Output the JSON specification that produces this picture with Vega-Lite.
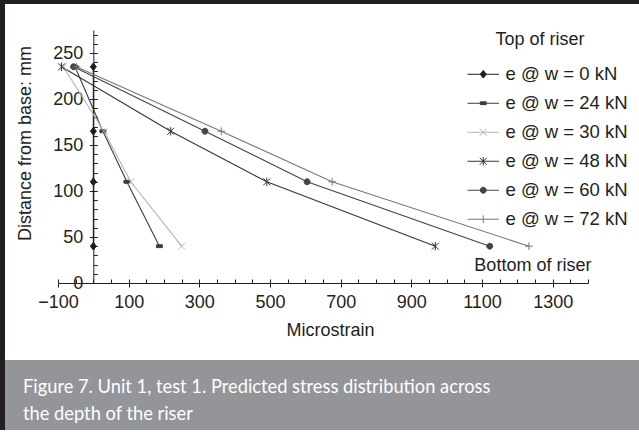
{
  "$schema": "https://vega.github.io/schema/vega-lite/v6.json",
  "background": "white",
  "padding": 0,
  "spacing": 0,
  "config": {"view": {"stroke": null}, "font": "Liberation Sans", "concat": {"spacing": 0}},
  "hconcat": [
    {"width": 5, "height": 430, "data": {"values": []}, "mark": "rect", "view": {"fill": "#231f20", "stroke": null}},
    {
      "spacing": 0,
      "vconcat": [
        {"width": 634, "height": 4, "data": {"values": []}, "mark": "rect", "view": {"fill": "#231f20", "stroke": null}},
        {
          "width": 634,
          "height": 356,
          "data": {"values": [
            {"series": "e @ w = 0 kN", "mk": "e @ w = 0 kN", "strain": 0, "depth": 235},
            {"series": "e @ w = 0 kN", "mk": "e @ w = 0 kN", "strain": 0, "depth": 165},
            {"series": "e @ w = 0 kN", "mk": "e @ w = 0 kN", "strain": 0, "depth": 110},
            {"series": "e @ w = 0 kN", "mk": "e @ w = 0 kN", "strain": 0, "depth": 40},
            {"series": "e @ w = 24 kN", "mk": "e @ w = 24 kN", "strain": -52, "depth": 235},
            {"series": "e @ w = 24 kN", "mk": "e @ w = 24 kN", "strain": 27, "depth": 165},
            {"series": "e @ w = 24 kN", "mk": "e @ w = 24 kN", "strain": 95, "depth": 110},
            {"series": "e @ w = 24 kN", "mk": "e @ w = 24 kN", "strain": 187, "depth": 40},
            {"series": "e @ w = 30 kN", "mk": "e @ w = 30 kN", "strain": -85, "depth": 235},
            {"series": "e @ w = 30 kN", "mk": "e @ w = 30 kN", "strain": 30, "depth": 165},
            {"series": "e @ w = 30 kN", "mk": "e @ w = 30 kN", "strain": 106, "depth": 110},
            {"series": "e @ w = 30 kN", "mk": "e @ w = 30 kN", "strain": 250, "depth": 40},
            {"series": "e @ w = 48 kN", "mk": "e @ w = 48 kN", "strain": -90, "depth": 235},
            {"series": "e @ w = 48 kN", "mk": "e @ w = 48 kN", "strain": 219, "depth": 165},
            {"series": "e @ w = 48 kN", "mk": "e @ w = 48 kN", "strain": 491, "depth": 110},
            {"series": "e @ w = 48 kN", "mk": "e @ w = 48 kN", "strain": 968, "depth": 40},
            {"series": "e @ w = 60 kN", "mk": "e @ w = 60 kN", "strain": -56, "depth": 235},
            {"series": "e @ w = 60 kN", "mk": "e @ w = 60 kN", "strain": 316, "depth": 165},
            {"series": "e @ w = 60 kN", "mk": "e @ w = 60 kN", "strain": 605, "depth": 110},
            {"series": "e @ w = 60 kN", "mk": "e @ w = 60 kN", "strain": 1122, "depth": 40},
            {"series": "e @ w = 72 kN", "mk": "e @ w = 72 kN", "strain": -48, "depth": 235},
            {"series": "e @ w = 72 kN", "mk": "e @ w = 72 kN", "strain": 362, "depth": 165},
            {"series": "e @ w = 72 kN", "mk": "e @ w = 72 kN", "strain": 676, "depth": 110},
            {"series": "e @ w = 72 kN", "mk": "e @ w = 72 kN", "strain": 1233, "depth": 40}
          ]},
          "resolve": {"axis": {"x": "independent", "y": "independent"}},
          "layer": [
            {
              "mark": {"type": "line", "strokeWidth": 1.1},
              "encoding": {
                "x": {"field": "strain", "type": "quantitative",
                  "scale": {"domain": [-100, 1400], "range": [53, 583], "nice": false, "zero": false},
                  "axis": {"orient": "bottom", "offset": -77, "values": [-100, 100, 300, 500, 700, 900, 1100, 1300], "format": "d",
                    "tickSize": 4, "tickColor": "#231f20", "domainColor": "#231f20", "labelFontSize": 18, "labelFont": "Liberation Sans",
                    "labelColor": "#231f20", "labelPadding": 6, "labelFlush": false, "labelOverlap": false, "grid": false,
                    "title": "Microstrain", "titleFont": "Liberation Sans", "titleFontSize": 18, "titleFontWeight": "normal", "titleColor": "#231f20",
                    "titleX": 325, "titleY": 47, "titleBaseline": "middle"}},
                "y": {"field": "depth", "type": "quantitative",
                  "scale": {"domain": [0, 275], "range": [279, 26], "nice": false, "zero": false},
                  "axis": {"orient": "left", "offset": -88.33, "values": [0, 50, 100, 150, 200, 250], "format": "d",
                    "tickSize": 4, "tickColor": "#231f20", "domainColor": "#231f20", "labelFontSize": 18, "labelFont": "Liberation Sans",
                    "labelColor": "#231f20", "labelPadding": 6.5, "labelOverlap": false, "grid": false,
                    "title": "Distance from base: mm", "titleFont": "Liberation Sans", "titleFontSize": 18, "titleFontWeight": "normal", "titleColor": "#231f20",
                    "titleX": -67.8, "titleY": 139, "titleBaseline": "middle", "titleAngle": -90}},
                "color": {"field": "series", "type": "nominal",
                  "scale": {"domain": ["e @ w = 0 kN", "e @ w = 24 kN", "e @ w = 30 kN", "e @ w = 48 kN", "e @ w = 60 kN", "e @ w = 72 kN"],
                            "range": ["#1e1e1e", "#3c3c3c", "#b4b4b4", "#363636", "#444444", "#777777"]},
                  "legend": {"orient": "none", "legendX": 474, "legendY": 65, "title": null, "padding": 0,
                    "symbolSize": 49, "symbolStrokeWidth": 1, "labelFontSize": 18.5, "labelFont": "Liberation Sans", "labelColor": "#231f20",
                    "labelOffset": 13, "rowPadding": 10, "labelLimit": 0,
                    "encoding": {"symbols": {
                      "shape": {"value": {"expr": "['M-4.5,0H4.5M0,-1.1L0.85,0L0,1.1L-0.85,0Z','M-4.5,0H4.5M-0.85,-0.4H0.85V0.4H-0.85Z','M-4.5,0H4.5M-1,-1L1,1M-1,1L1,-1','M-4.5,0H4.5M-1,-1L1,1M-1,1L1,-1M0,-1.2V1.2','M-4.5,0H4.5M-0.85,0A0.85,0.85,0,1,1,0.85,0A0.85,0.85,0,1,1,-0.85,0Z','M-4.5,0H4.5M0,-1.1V1.1'][indexof(['e @ w = 0 kN','e @ w = 24 kN','e @ w = 30 kN','e @ w = 48 kN','e @ w = 60 kN','e @ w = 72 kN'], datum.value)]"}}
                    }}}},
                "order": {"field": "depth", "sort": "descending"}
              }
            },
            {
              "mark": {"type": "point", "filled": true, "size": 49, "strokeWidth": 1, "opacity": 1},
              "encoding": {
                "x": {"field": "strain", "type": "quantitative",
                  "scale": {"domain": [-100, 1400], "range": [53, 583], "nice": false, "zero": false},
                  "axis": {"orient": "bottom", "offset": -77, "values": [-100, -50, 0, 50, 100, 150, 200, 250, 300, 350, 400, 450, 500, 550, 600, 650, 700, 750, 800, 850, 900, 950, 1000, 1050, 1100, 1150, 1200, 1250, 1300, 1350, 1400],
                    "tickSize": -4, "tickColor": "#231f20", "labels": false, "domain": false, "grid": false, "title": null}},
                "y": {"field": "depth", "type": "quantitative",
                  "scale": {"domain": [0, 275], "range": [279, 26], "nice": false, "zero": false},
                  "axis": {"orient": "left", "offset": -88.33, "values": [0, 10, 20, 30, 40, 50, 60, 70, 80, 90, 100, 110, 120, 130, 140, 150, 160, 170, 180, 190, 200, 210, 220, 230, 240, 250, 260, 270],
                    "tickSize": -4, "tickColor": "#231f20", "labels": false, "domain": false, "grid": false, "title": null}},
                "color": {"field": "series", "type": "nominal",
                  "scale": {"domain": ["e @ w = 0 kN", "e @ w = 24 kN", "e @ w = 30 kN", "e @ w = 48 kN", "e @ w = 60 kN", "e @ w = 72 kN"],
                            "range": ["#1e1e1e", "#3c3c3c", "#b4b4b4", "#363636", "#444444", "#777777"]},
                  "legend": {"orient": "none", "legendX": 474, "legendY": 65, "title": null, "padding": 0,
                    "symbolSize": 49, "symbolStrokeWidth": 1, "labelFontSize": 18.5, "labelFont": "Liberation Sans", "labelColor": "#231f20",
                    "labelOffset": 13, "rowPadding": 10, "labelLimit": 0,
                    "encoding": {"symbols": {
                      "shape": {"value": {"expr": "['M-4.5,0H4.5M0,-1.1L0.85,0L0,1.1L-0.85,0Z','M-4.5,0H4.5M-0.85,-0.4H0.85V0.4H-0.85Z','M-4.5,0H4.5M-1,-1L1,1M-1,1L1,-1','M-4.5,0H4.5M-1,-1L1,1M-1,1L1,-1M0,-1.2V1.2','M-4.5,0H4.5M-0.85,0A0.85,0.85,0,1,1,0.85,0A0.85,0.85,0,1,1,-0.85,0Z','M-4.5,0H4.5M0,-1.1V1.1'][indexof(['e @ w = 0 kN','e @ w = 24 kN','e @ w = 30 kN','e @ w = 48 kN','e @ w = 60 kN','e @ w = 72 kN'], datum.value)]"}}
                    }}}},
                "stroke": {"field": "series", "type": "nominal",
                  "scale": {"domain": ["e @ w = 0 kN", "e @ w = 24 kN", "e @ w = 30 kN", "e @ w = 48 kN", "e @ w = 60 kN", "e @ w = 72 kN"],
                            "range": ["#1e1e1e", "#3c3c3c", "#b4b4b4", "#363636", "#444444", "#777777"]},
                  "legend": {"orient": "none", "legendX": 474, "legendY": 65, "title": null, "padding": 0,
                    "symbolSize": 49, "symbolStrokeWidth": 1, "labelFontSize": 18.5, "labelFont": "Liberation Sans", "labelColor": "#231f20",
                    "labelOffset": 13, "rowPadding": 10, "labelLimit": 0,
                    "encoding": {"symbols": {
                      "shape": {"value": {"expr": "['M-4.5,0H4.5M0,-1.1L0.85,0L0,1.1L-0.85,0Z','M-4.5,0H4.5M-0.85,-0.4H0.85V0.4H-0.85Z','M-4.5,0H4.5M-1,-1L1,1M-1,1L1,-1','M-4.5,0H4.5M-1,-1L1,1M-1,1L1,-1M0,-1.2V1.2','M-4.5,0H4.5M-0.85,0A0.85,0.85,0,1,1,0.85,0A0.85,0.85,0,1,1,-0.85,0Z','M-4.5,0H4.5M0,-1.1V1.1'][indexof(['e @ w = 0 kN','e @ w = 24 kN','e @ w = 30 kN','e @ w = 48 kN','e @ w = 60 kN','e @ w = 72 kN'], datum.value)]"}}
                    }}}},
                "shape": {"field": "mk", "type": "nominal",
                  "scale": {"range": ["M0,-1.1L0.85,0L0,1.1L-0.85,0Z", "M-0.85,-0.4H0.85V0.4H-0.85Z", "M-1,-1L1,1M-1,1L1,-1", "M-1,-1L1,1M-1,1L1,-1M0,-1.2V1.2", "M-0.85,0A0.85,0.85,0,1,1,0.85,0A0.85,0.85,0,1,1,-0.85,0Z", "M-1.1,0H1.1M0,-1.1V1.1"]},
                  "legend": null}
              }
            },
            {
              "data": {"values": [
                {"note": "Top of riser", "nx": 1264, "ny": 264},
                {"note": "Bottom of riser", "nx": 1244, "ny": 18}
              ]},
              "mark": {"type": "text", "fontSize": 18, "font": "Liberation Sans", "color": "#231f20", "align": "center", "baseline": "middle"},
              "encoding": {
                "x": {"field": "nx", "type": "quantitative", "scale": {"domain": [-100, 1400], "range": [53, 583], "nice": false, "zero": false}, "axis": null},
                "y": {"field": "ny", "type": "quantitative", "scale": {"domain": [0, 275], "range": [279, 26], "nice": false, "zero": false}, "axis": null},
                "text": {"field": "note"}
              }
            }
          ]
        },
        {
          "width": 634,
          "height": 70,
          "data": {"values": []},
          "mark": "rect",
          "view": {"fill": "#939598", "stroke": null},
          "title": {"text": ["Figure 7. Unit 1, test 1. Predicted stress distribution across", "the depth of the riser"],
            "orient": "top", "anchor": "start", "frame": "group", "offset": -78, "baseline": "alphabetic", "dx": 18,
            "font": "Lato", "fontSize": 18.3, "fontWeight": "normal", "color": "white", "lineHeight": 27}
        }
      ]
    }
  ]
}
